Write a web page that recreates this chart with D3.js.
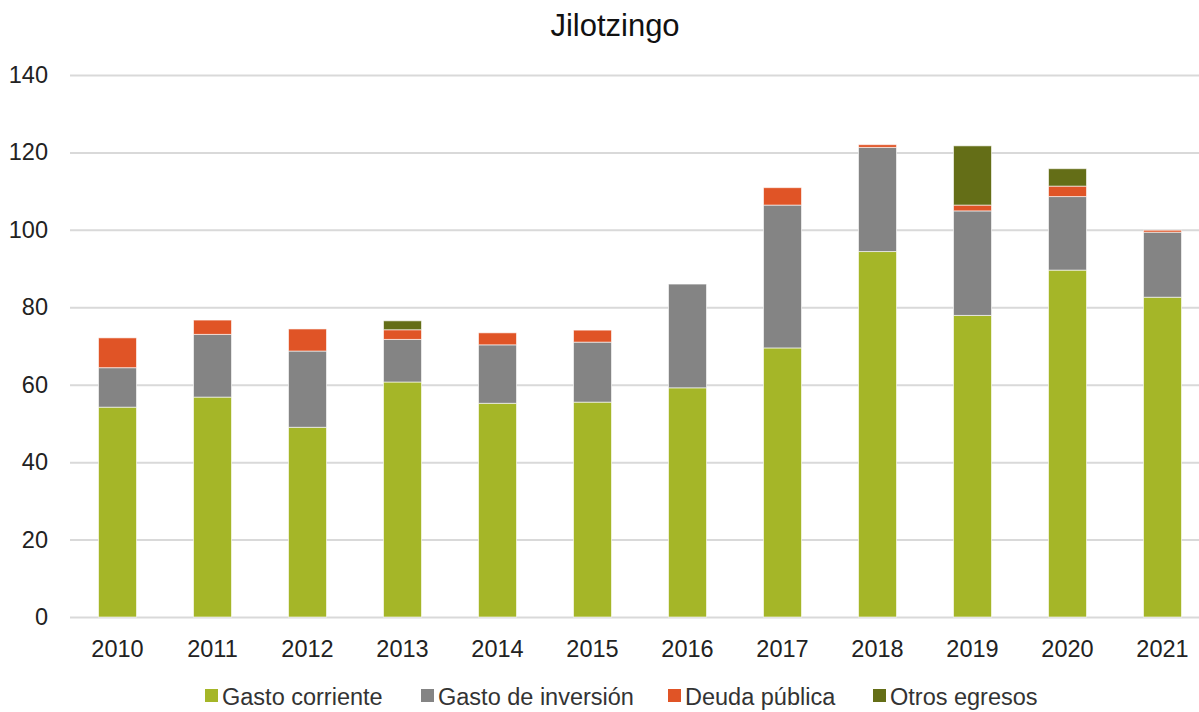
<!DOCTYPE html>
<html><head><meta charset="utf-8">
<script src="https://cdn.jsdelivr.net/npm/d3@7"></script>
<style>
html,body{margin:0;padding:0;background:#fff;overflow:hidden}
text{font-family:"Liberation Sans","Helvetica Neue",Arial,sans-serif}
</style></head>
<body><svg id="c" width="1199" height="712"></svg>
<script>
const years = ["2010","2011","2012","2013","2014","2015","2016","2017","2018","2019","2020","2021"];
const gastoCorriente = [54.2,56.8,49.0,60.7,55.2,55.5,59.2,69.5,94.4,77.9,89.6,82.6];
const gastoInversion = [10.2,16.2,19.7,11.0,15.1,15.5,26.8,36.9,26.9,27.0,19.0,16.8];
const deudaPublica   = [7.7,3.7,5.7,2.5,3.1,3.1,0,4.5,0.7,1.5,2.7,0.5];
const otrosEgresos   = [0,0,0,2.3,0,0,0,0,0,15.3,4.5,0];
const seriesNames = ["Gasto corriente","Gasto de inversión","Deuda pública","Otros egresos"];
const seriesColors = ["#A5B628","#848484","#E05426","#646E17"];
const yTicks = [0,20,40,60,80,100,120,140];

const svg = d3.select("#c");
const mLeft = 70, mRight = 1210, mTop = 75, mBottom = 617;
const x = d3.scaleBand().domain(years).range([mLeft,mRight]).paddingInner(0.6).paddingOuter(0.3);
const y = d3.scaleLinear().domain([0,140]).range([mBottom,mTop]);

svg.append("text").attr("x",615).attr("y",36).attr("text-anchor","middle")
  .attr("font-size",31).attr("fill","#111").text("Jilotzingo");

const gy = svg.append("g").attr("transform",`translate(${mLeft},0)`)
  .call(d3.axisLeft(y).tickValues(yTicks).tickSize(-(1199-mLeft)).tickPadding(22));
gy.select(".domain").remove();
gy.selectAll(".tick line").attr("stroke","#d9d9d9").attr("stroke-width",2);
gy.selectAll(".tick text").attr("font-size",23.5).attr("fill","#222").attr("font-family","Liberation Sans, Arial, sans-serif");

const table = years.map((yr,i)=>({year:yr, s0:gastoCorriente[i], s1:gastoInversion[i], s2:deudaPublica[i], s3:otrosEgresos[i]}));
const stack = d3.stack().keys(["s0","s1","s2","s3"])(table);

svg.append("g").selectAll("g").data(stack).join("g")
  .attr("fill",(d,i)=>seriesColors[i])
  .selectAll("rect").data(d=>d.filter(p=>p[1]-p[0]>0)).join("rect")
  .attr("x",d=>x(d.data.year)).attr("width",x.bandwidth())
  .attr("y",d=>y(d[1])).attr("height",d=>y(d[0])-y(d[1]))
  .attr("stroke","#ffffff").attr("stroke-opacity",0.6).attr("stroke-width",1);

const gx = svg.append("g").attr("transform",`translate(0,${mBottom})`)
  .call(d3.axisBottom(x).tickSize(0).tickPadding(23));
gx.select(".domain").remove();
gx.selectAll(".tick text").attr("font-size",23.5).attr("fill","#222").attr("font-family","Liberation Sans, Arial, sans-serif");

const legX = [205,421,668,873];
const leg = svg.append("g");
seriesNames.forEach((n,i)=>{
  leg.append("rect").attr("x",legX[i]).attr("y",689).attr("width",13).attr("height",13).attr("fill",seriesColors[i]);
  leg.append("text").attr("x",legX[i]+17).attr("y",705).attr("font-size",23.5).attr("fill","#333").text(n);
});
</script></body></html>
